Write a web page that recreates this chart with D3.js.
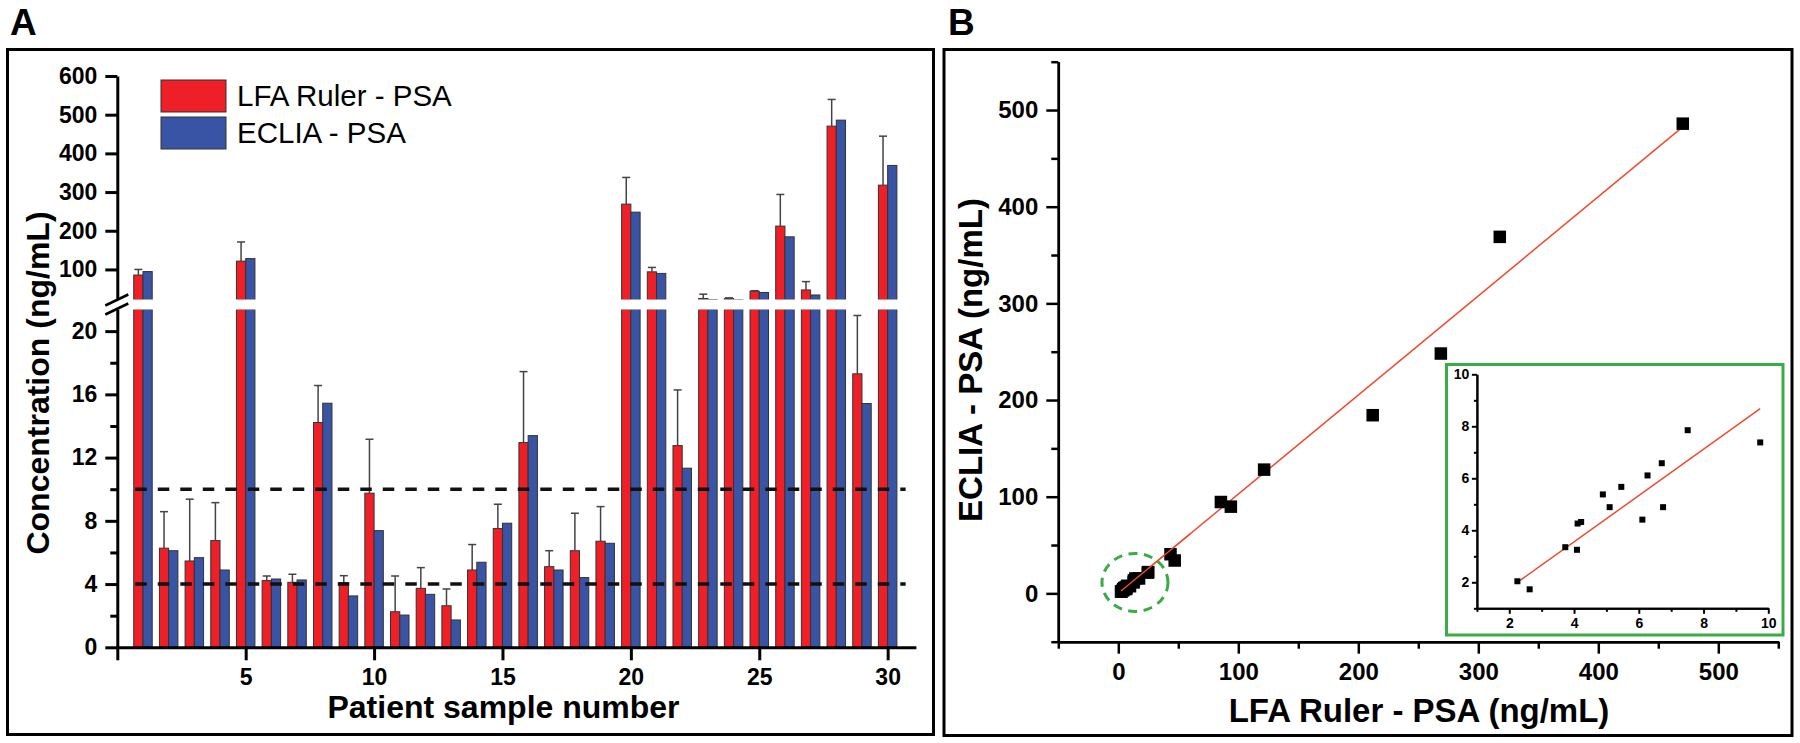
<!DOCTYPE html>
<html>
<head>
<meta charset="utf-8">
<script src="https://cdn.jsdelivr.net/npm/d3@7"></script>
<style>
    body { margin: 0; background: #fff; }
    svg { display: block; font-family: "Liberation Sans", Arial, sans-serif; }
</style>
</head>
<body>
<div id="chart"></div>
<script>
// patient samples 1..30
var samples = [1, 2, 3, 4, 5, 6, 7, 8, 9, 10, 11, 12, 13, 14, 15, 16, 17, 18, 19, 20, 21, 22, 23, 24, 25, 26, 27, 28, 29, 30];
var lfaPSA = [85.5, 6.27, 5.46, 6.75, 121.5, 4.22, 4.11, 14.22, 4.09, 9.75, 2.25, 3.73, 2.63, 4.89, 7.51, 12.95, 5.10, 6.11, 6.71, 268.8, 93.8, 12.76, 25.0, 24.5, 43.5, 212, 47, 470.4, 17.3, 317.9];
var ecliaPSA = [94.5, 6.11, 5.67, 4.89, 128, 4.32, 4.26, 15.44, 3.25, 7.38, 2.04, 3.35, 1.73, 5.38, 7.85, 13.39, 4.89, 4.41, 6.58, 248.1, 89.7, 11.33, 22, 21.5, 40.5, 184.3, 34, 485.9, 15.42, 368.8];
var lfaErr = [14.5, 2.31, 3.91, 2.4, 49.5, 0.29, 0.51, 2.34, 0.44, 3.41, 2.26, 1.31, 1.06, 1.61, 1.54, 4.49, 1.01, 2.37, 2.19, 69, 11.4, 3.52, 11, 2, 1.5, 81.8, 21.5, 69, 3.69, 126.6];

var seriesNames = ["LFA Ruler - PSA", "ECLIA - PSA"];
var cutoffs = [4, 10];

var xTicksA = [0, 5, 10, 15, 20, 25, 30];
var yTicksLow = [0, 4, 8, 12, 16, 20];
var yMinorLow = [2, 6, 10, 14, 18];
var yTicksUp = [100, 200, 300, 400, 500, 600];
var ticksB = [0, 100, 200, 300, 400, 500];
var minorB = [-50, 50, 150, 250, 350, 450, 550];
var ticksInset = [2, 4, 6, 8, 10];
var minorInset = [1, 3, 5, 7, 9];

// linear fits
var mainFit = {slope: 1.0255, intercept: 0.14};
var insetFit = {slope: 0.891, intercept: -0.01};

var red = "#ee1f26", blue = "#3a54a5", green = "#3aac45", fitColor = "#f04a2e";
var data = samples.map(function(s, i) {
    return {s: s, lfa: lfaPSA[i], eclia: ecliaPSA[i], err: lfaErr[i]};
});

var svg = d3.select("#chart").append("svg")
    .attr("width", 1800)
    .attr("height", 743);

function styleAxis(g, size, width) {
    g.attr("font-family", null).attr("font-size", null);
    g.selectAll("path, line").attr("stroke", "#000").attr("stroke-width", width);
    g.selectAll("text").attr("font-size", size).attr("font-weight", "bold").attr("fill", "#000");
}

// frames and panel letters
svg.append("rect").attr("x", 7.5).attr("y", 49.5).attr("width", 926).attr("height", 685)
    .attr("fill", "none").attr("stroke", "#000").attr("stroke-width", 3);
svg.append("rect").attr("x", 944).attr("y", 49.5).attr("width", 848).attr("height", 686)
    .attr("fill", "none").attr("stroke", "#000").attr("stroke-width", 3);
svg.append("text").attr("x", 10).attr("y", 35).attr("font-size", 37).attr("font-weight", "bold").text("A");
svg.append("text").attr("x", 948).attr("y", 35).attr("font-size", 37).attr("font-weight", "bold").text("B");

// ---------- panel A : bar chart with broken axis ----------
var xA = d3.scaleLinear().domain([0, 31.1]).range([117.3, 915.9]);
var yLow = d3.scaleLinear().domain([0, 21.4]).range([647.3, 309]);
var yUp = d3.scaleLinear().domain([21, 600]).range([300, 76]);
var yA = function(v) { return v <= 21.2 ? yLow(v) : yUp(v); };
var bw = xA(0.36) - xA(0);

var gA = svg.append("g");

var groups = gA.selectAll(".barGroup")
    .data(data)
    .enter()
    .append("g")
    .attr("class", "barGroup");

[{key: "lfa", color: red, off: -1}, {key: "eclia", color: blue, off: 0}].forEach(function(ser) {
    groups.append("rect")
        .attr("x", function(d) { return xA(d.s) + ser.off * bw; })
        .attr("y", function(d) { return yLow(Math.min(d[ser.key], 21.4)); })
        .attr("width", bw)
        .attr("height", function(d) { return yLow(0) - yLow(Math.min(d[ser.key], 21.4)); })
        .attr("fill", ser.color)
        .attr("stroke", "#333")
        .attr("stroke-width", 1);
    groups.filter(function(d) { return d[ser.key] > 21; })
        .append("rect")
        .attr("x", function(d) { return xA(d.s) + ser.off * bw; })
        .attr("y", function(d) { return yUp(d[ser.key]); })
        .attr("width", bw)
        .attr("height", function(d) { return yUp(21) - yUp(d[ser.key]); })
        .attr("fill", ser.color)
        .attr("stroke", "#333")
        .attr("stroke-width", 1);
});

// error bars (LFA only)
groups.append("line")
    .attr("x1", function(d) { return xA(d.s) - bw / 2; })
    .attr("x2", function(d) { return xA(d.s) - bw / 2; })
    .attr("y1", function(d) { return yA(d.lfa); })
    .attr("y2", function(d) { return yA(d.lfa + d.err); })
    .attr("stroke", "#444").attr("stroke-width", 1.5);
groups.append("line")
    .attr("x1", function(d) { return xA(d.s) - bw / 2 - 4; })
    .attr("x2", function(d) { return xA(d.s) - bw / 2 + 4; })
    .attr("y1", function(d) { return yA(d.lfa + d.err); })
    .attr("y2", function(d) { return yA(d.lfa + d.err); })
    .attr("stroke", "#444").attr("stroke-width", 1.5);

// white gap of the axis break
gA.append("rect").attr("x", xA(0) + 2).attr("y", 299.5)
    .attr("width", xA(31.1) - xA(0)).attr("height", 10)
    .attr("fill", "#fff");

// cutoff lines
gA.selectAll(".cutoff")
    .data(cutoffs)
    .enter()
    .append("line")
    .attr("x1", xA(0.7)).attr("x2", xA(30.7))
    .attr("y1", function(d) { return yLow(d); })
    .attr("y2", function(d) { return yLow(d); })
    .attr("stroke", "#111").attr("stroke-width", 3.5)
    .attr("stroke-dasharray", "11.5,11");

// axes
gA.append("g")
    .attr("transform", "translate(0," + yLow(0) + ")")
    .call(d3.axisBottom(xA).tickValues(xTicksA).tickSize(13).tickSizeOuter(0).tickPadding(8.4)
        .tickFormat(function(d) { return d === 0 ? "" : d; }))
    .call(styleAxis, 23, 3);

gA.append("g")
    .attr("transform", "translate(" + xA(0) + ",0)")
    .call(d3.axisLeft(yLow).tickValues(yTicksLow).tickSize(12).tickSizeOuter(0).tickPadding(8))
    .call(styleAxis, 23, 3);
gA.append("g")
    .attr("transform", "translate(" + xA(0) + ",0)")
    .call(d3.axisLeft(yLow).tickValues(yMinorLow).tickSize(7).tickSizeOuter(0).tickFormat(""))
    .call(styleAxis, 23, 3)
    .select(".domain").remove();

var yUpAxis = d3.scaleLinear().domain([23, 600]).range([yUp(23), yUp(600)]);
gA.append("g")
    .attr("transform", "translate(" + xA(0) + ",0)")
    .call(d3.axisLeft(yUpAxis).tickValues(yTicksUp).tickSize(12).tickSizeOuter(0).tickPadding(8))
    .call(styleAxis, 23, 3);

// break marks
[300, 309].forEach(function(yb) {
    gA.append("line")
        .attr("x1", xA(0) - 12).attr("y1", yb + 5.5)
        .attr("x2", xA(0) + 11).attr("y2", yb - 5.5)
        .attr("stroke", "#000").attr("stroke-width", 2.5);
});

// legend
var legend = gA.selectAll(".legend")
    .data(seriesNames)
    .enter()
    .append("g")
    .attr("class", "legend")
    .attr("transform", function(d, i) { return "translate(161," + (80 + i * 37) + ")"; });
legend.append("rect")
    .attr("width", 65).attr("height", 32)
    .attr("fill", function(d, i) { return i === 0 ? red : blue; })
    .attr("stroke", "#333").attr("stroke-width", 1);
legend.append("text")
    .attr("x", 76).attr("y", 26)
    .attr("font-size", 29.5)
    .text(function(d) { return d; });

gA.append("text")
    .attr("x", 503.5).attr("y", 718)
    .attr("text-anchor", "middle")
    .attr("font-size", 32).attr("font-weight", "bold")
    .text("Patient sample number");
gA.append("text")
    .attr("transform", "translate(49,383) rotate(-90)")
    .attr("text-anchor", "middle")
    .attr("font-size", 32).attr("font-weight", "bold")
    .text("Concentration (ng/mL)");

// ---------- panel B : correlation scatter ----------
var xB = d3.scaleLinear().domain([-50, 550]).range([1058.3, 1778.3]);
var yB = d3.scaleLinear().domain([-50, 550]).range([641.7, 61.7]);
var gB = svg.append("g");

gB.append("g")
    .attr("transform", "translate(0," + yB(-50) + ")")
    .call(d3.axisBottom(xB).tickValues(ticksB).tickSize(12).tickSizeOuter(0).tickPadding(9.3))
    .call(styleAxis, 24, 2.5);
gB.append("g")
    .attr("transform", "translate(0," + yB(-50) + ")")
    .call(d3.axisBottom(xB).tickValues(minorB).tickSize(7).tickSizeOuter(0).tickFormat(""))
    .call(styleAxis, 24, 2.5);
gB.append("g")
    .attr("transform", "translate(" + xB(-50) + ",0)")
    .call(d3.axisLeft(yB).tickValues(ticksB).tickSize(12).tickSizeOuter(0).tickPadding(8))
    .call(styleAxis, 24, 2.5);
gB.append("g")
    .attr("transform", "translate(" + xB(-50) + ",0)")
    .call(d3.axisLeft(yB).tickValues(minorB).tickSize(7).tickSizeOuter(0).tickFormat(""))
    .call(styleAxis, 24, 2.5);

var xExt = d3.extent(lfaPSA);
gB.append("line")
    .attr("x1", xB(xExt[0])).attr("y1", yB(mainFit.slope * xExt[0] + mainFit.intercept))
    .attr("x2", xB(xExt[1])).attr("y2", yB(mainFit.slope * xExt[1] + mainFit.intercept))
    .attr("stroke", fitColor).attr("stroke-width", 1.5);

var sq = 12.5;
gB.selectAll(".pt")
    .data(data)
    .enter()
    .append("rect")
    .attr("class", "pt")
    .attr("x", function(d) { return xB(d.lfa) - sq / 2; })
    .attr("y", function(d) { return yB(d.eclia) - sq / 2; })
    .attr("width", sq).attr("height", sq)
    .attr("fill", "#000");

gB.append("line")
    .attr("x1", xB(xExt[0])).attr("y1", yB(mainFit.slope * xExt[0] + mainFit.intercept))
    .attr("x2", xB(60)).attr("y2", yB(mainFit.slope * 60 + mainFit.intercept))
    .attr("stroke", fitColor).attr("stroke-width", 1.5);

gB.append("ellipse")
    .attr("cx", xB(13.9)).attr("cy", yB(11.3))
    .attr("rx", 33).attr("ry", 29)
    .attr("fill", "none").attr("stroke", green).attr("stroke-width", 3)
    .attr("stroke-dasharray", "9,6.5");

gB.append("text")
    .attr("x", 1419).attr("y", 721.7)
    .attr("text-anchor", "middle")
    .attr("font-size", 33).attr("font-weight", "bold")
    .text("LFA Ruler - PSA (ng/mL)");
gB.append("text")
    .attr("transform", "translate(982,360) rotate(-90)")
    .attr("text-anchor", "middle")
    .attr("font-size", 33).attr("font-weight", "bold")
    .text("ECLIA - PSA (ng/mL)");

// ---------- inset : low range ----------
var xI = d3.scaleLinear().domain([1, 10]).range([1476.9, 1768.3]);
var yI = d3.scaleLinear().domain([1, 10]).range([608.3, 374.3]);
var gI = svg.append("g");

gI.append("rect").attr("x", 1446.5).attr("y", 364.5).attr("width", 336.5).attr("height", 270.5)
    .attr("fill", "#fff").attr("stroke", green).attr("stroke-width", 3);

gI.append("g")
    .attr("transform", "translate(0," + yI(1) + ")")
    .call(d3.axisBottom(xI).tickValues(ticksInset).tickSize(5.5).tickSizeOuter(0).tickPadding(4.5))
    .call(styleAxis, 14, 2);
gI.append("g")
    .attr("transform", "translate(0," + yI(1) + ")")
    .call(d3.axisBottom(xI).tickValues(minorInset).tickSize(3.5).tickSizeOuter(0).tickFormat(""))
    .call(styleAxis, 14, 2);
gI.append("g")
    .attr("transform", "translate(" + xI(1) + ",0)")
    .call(d3.axisLeft(yI).tickValues(ticksInset).tickSize(5).tickSizeOuter(0).tickPadding(2.7))
    .call(styleAxis, 14, 2);
gI.append("g")
    .attr("transform", "translate(" + xI(1) + ",0)")
    .call(d3.axisLeft(yI).tickValues(minorInset).tickSize(3).tickSizeOuter(0).tickFormat(""))
    .call(styleAxis, 14, 2);

var lowData = data.filter(function(d) { return d.lfa >= 1 && d.lfa <= 10; });
var lowExt = d3.extent(lowData, function(d) { return d.lfa; });
gI.append("line")
    .attr("x1", xI(lowExt[0])).attr("y1", yI(insetFit.slope * lowExt[0] + insetFit.intercept))
    .attr("x2", xI(lowExt[1])).attr("y2", yI(insetFit.slope * lowExt[1] + insetFit.intercept))
    .attr("stroke", fitColor).attr("stroke-width", 1.5);

var sqI = 6;
gI.selectAll(".ipt")
    .data(lowData)
    .enter()
    .append("rect")
    .attr("class", "ipt")
    .attr("x", function(d) { return xI(d.lfa) - sqI / 2; })
    .attr("y", function(d) { return yI(d.eclia) - sqI / 2; })
    .attr("width", sqI).attr("height", sqI)
    .attr("fill", "#000");
</script>
</body>
</html>
